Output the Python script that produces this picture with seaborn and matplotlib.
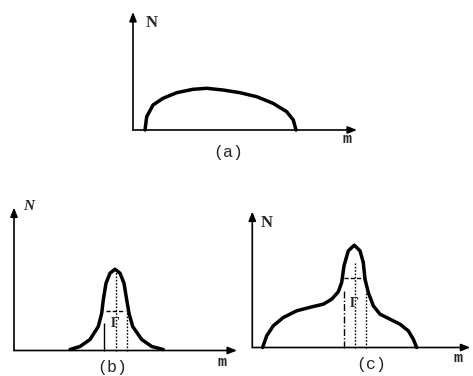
import matplotlib
matplotlib.use("Agg")
import matplotlib.pyplot as plt
import seaborn as sns

sns.set_theme(style="white")
plt.rcParams['font.family'] = ['Liberation Mono', 'DejaVu Sans']

W, H = 473, 376

# ---- data (units: relative distances from each panel's origin) ----
a_m = [12, 13.7, 20, 30, 43.7, 60, 73.7, 90, 107, 123.7, 140, 153.7, 160.3, 163]
a_N = [0, 13.3, 25, 31.7, 37.3, 40.7, 41.7, 40, 37.3, 33.3, 26.7, 18.3, 10, 0]

b_m = [56, 66, 76, 84.3, 87.7, 89.3, 92, 96, 101, 106, 110, 112.7, 115, 118.7, 127.7, 137.7, 149.3]
b_N = [1.0, 4, 11, 24, 37.3, 50.7, 67.3, 77.3, 81.3, 77.3, 67.3, 50.7, 37.3, 24, 11, 4, 1.0]

c_m = [10.3, 14.4, 21, 31, 44.4, 61, 71, 79.4, 86, 89.4, 91.7, 96, 102, 107.7, 111, 112.7,
       116, 121, 127.7, 137.7, 147.7, 156, 161, 164.4]
c_N = [0, 11.7, 21.7, 30, 36.7, 41, 43.3, 48.3, 55.7, 65, 81.7, 96.7, 102.3, 96.7, 85, 68.3,
       55, 41.7, 33.3, 28.3, 23.3, 16.7, 8.3, 0]

# guide lines: (x, top) for verticals, (y, x0, x1) for the half-width line
b_solid = (90.3, 27.3)
b_center = (101.7, 79)
b_right = (112.7, 40.7)
b_half = (40, 92, 111)

c_dashdot = (91.7, 56.7)
c_center = (102.7, 85)
c_right = (113.7, 56.7)
c_half = (70, 91.7, 113.7)

panel_labels = ["(a)", "(b)", "(c)"]
axis_x_label = "m"
axis_y_label = "N"
width_label = "Γ"


def make_panel(fig, origin, box, xend, ytop):
    ox, oy = origin
    x0, y0, x1, y1 = box  # pixel box: left, top, right, bottom
    ax = fig.add_axes([x0 / W, (H - y1) / H, (x1 - x0) / W, (y1 - y0) / H])
    ax.set_xlim(x0 - ox, x1 - ox)
    ax.set_ylim(oy - y1, oy - y0)
    ax.axis("off")
    ap = dict(arrowstyle="-|>,head_length=0.45,head_width=0.18", lw=1.2, color="black",
              shrinkA=0, shrinkB=0)
    ax.annotate("", xy=(xend, 0), xytext=(0, 0), arrowprops=ap, annotation_clip=False)
    ax.annotate("", xy=(0, ytop), xytext=(0, 0), arrowprops=ap, annotation_clip=False)
    return ax


fig = plt.figure(figsize=(W / 100, H / 100), dpi=100)
fig.patch.set_facecolor("white")

curve_kw = dict(color="black", linewidth=2.5, sort=False, estimator=None)
lab_kw = dict(fontsize=12, ha="center", va="center", family="Liberation Mono")
m_kw = dict(fontsize=11, ha="center", va="center", family="Liberation Mono", fontweight="bold")
N_kw = dict(fontsize=12, ha="center", va="center", family="Liberation Serif", fontweight="bold")
G_kw = dict(fontsize=10, ha="center", va="center", family="Liberation Serif", fontweight="bold")

# (a)
axa = make_panel(fig, (133, 130), (110, 0, 365, 170), 224, 118)
sns.lineplot(x=a_m, y=a_N, ax=axa, **curve_kw)
axa.text(19, 107, axis_y_label, **N_kw)
axa.text(214, -9, axis_x_label, **m_kw)
axa.text(95, -23, panel_labels[0], **lab_kw)

# (b)
axb = make_panel(fig, (14, 350.5), (0, 195, 245, 376), 223, 143)
sns.lineplot(x=b_m, y=b_N, ax=axb, **curve_kw)
axb.vlines(b_solid[0], 0, b_solid[1], colors="black", lw=1.0)
axb.vlines(b_center[0], 0, b_center[1], colors="black", lw=1.0, linestyles=(0, (1.2, 1.2)))
axb.vlines(b_right[0], 0, b_right[1], colors="black", lw=1.0, linestyles=(0, (1.2, 1.2)))
axb.hlines(b_half[0], b_half[1], b_half[2], colors="black", lw=1.0, linestyles=(0, (3, 1.5)))
axb.text(101, 27, width_label, **G_kw)
axb.text(15, 144, axis_y_label, fontsize=11, ha="center", va="center",
         family="Liberation Serif", fontstyle="italic", fontweight="bold")
axb.text(208, -11, axis_x_label, **m_kw)
axb.text(98, -17, panel_labels[1], **lab_kw)

# (c)
axc = make_panel(fig, (252.3, 347.5), (240, 200, 473, 376), 218, 136)
sns.lineplot(x=c_m, y=c_N, ax=axc, **curve_kw)
axc.vlines(c_dashdot[0], 0, c_dashdot[1], colors="black", lw=1.0, linestyles=(0, (5, 1.5, 1, 1.5)))
axc.vlines(c_center[0], 0, c_center[1], colors="black", lw=1.0, linestyles=(0, (1.2, 1.2)))
axc.vlines(c_right[0], 0, c_right[1], colors="black", lw=1.0, linestyles=(0, (1.2, 1.2)))
axc.hlines(c_half[0], c_half[1], c_half[2], colors="black", lw=1.0, linestyles=(0, (3, 1.5)))
axc.text(102, 44, width_label, **G_kw)
axc.text(14.7, 124.8, axis_y_label, **N_kw)
axc.text(205.7, -10, axis_x_label, **m_kw)
axc.text(118.7, -17, panel_labels[2], **lab_kw)

fig.savefig("out.png", dpi=100, facecolor="white")
